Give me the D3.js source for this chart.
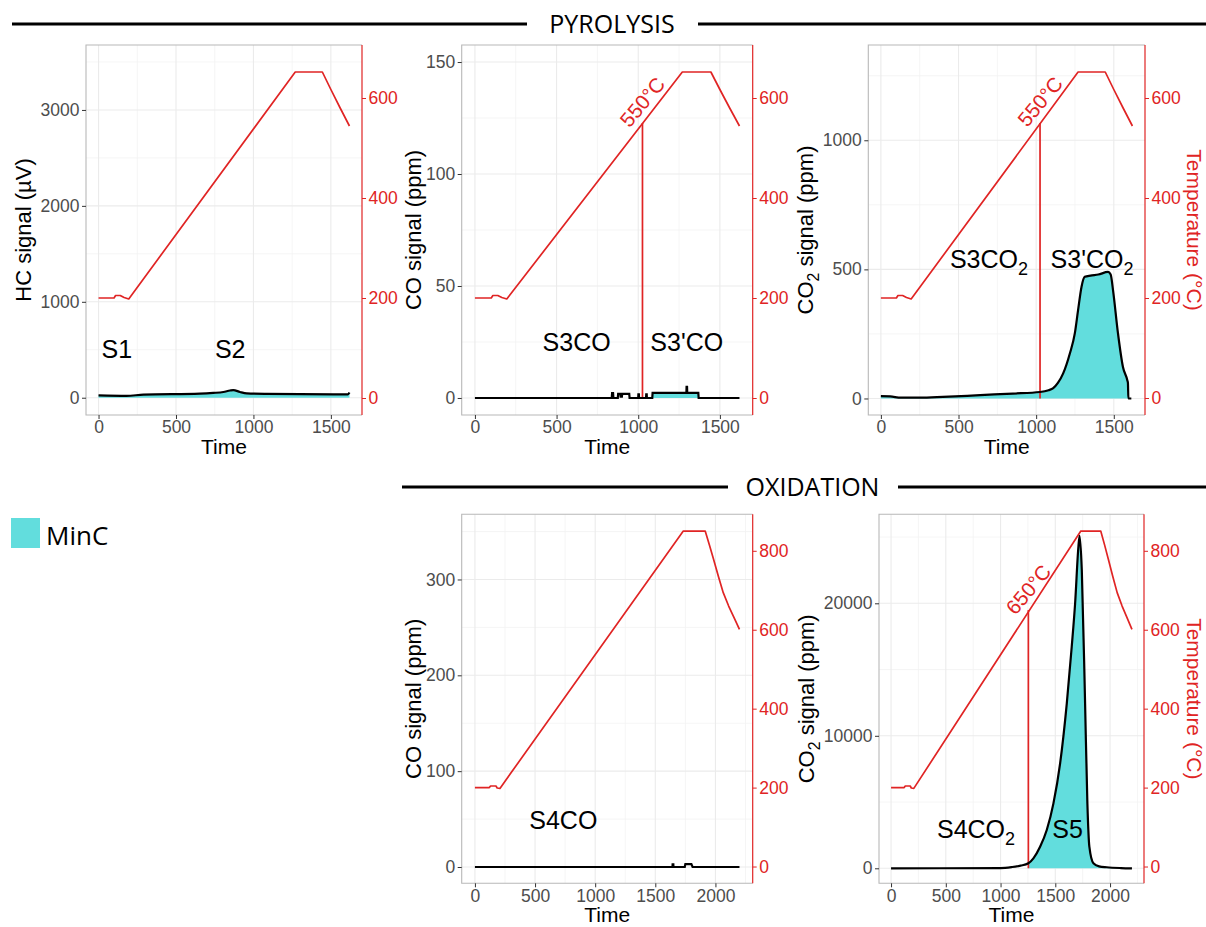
<!DOCTYPE html>
<html><head><meta charset="utf-8">
<script src="https://cdn.jsdelivr.net/npm/d3@7"></script>
<style>body{margin:0;background:#fff}</style></head>
<body>
<svg id="c" width="1206" height="927"></svg>
<script>
// ---------- DATA ----------
// temperature programmes
const pyroTempTime = [0, 100, 110, 140, 165, 195, 1270, 1445, 1500, 1560, 1620];
const pyroTempVal  = [200, 200, 205, 205, 201, 198, 652, 652, 617, 580, 544];
const oxiTempTime  = [0, 120, 130, 175, 185, 208, 1733, 1915, 1950, 1985, 2025, 2065, 2110, 2150, 2200];
const oxiTempVal   = [200, 200, 204, 204, 199, 198, 850, 850, 815, 778, 735, 694, 660, 634, 601];

// HC signal (pyrolysis)
const hcTime   = [0, 180, 290, 655, 741, 806, 849, 870, 913, 957, 1086, 1516, 1610, 1620];
const hcSignal = [25, 20, 32, 42, 50, 60, 75, 80, 60, 45, 40, 35, 35, 55];

// CO signal (pyrolysis)
const coPyroTime   = [0, 838, 840, 846, 848, 875, 877, 890, 892, 900, 902, 945, 947, 1000, 1001, 1004, 1005, 1048, 1049, 1052, 1053, 1086, 1088, 1295, 1296, 1299, 1300, 1368, 1370, 1620];
const coPyroSignal = [0, 0, 2.2, 2.2, 0, 0, 1.8, 1.8, 0.6, 0.6, 1.8, 1.8, 0, 0, 1.6, 1.6, 0, 0, 1.6, 1.6, 0, 0, 2.3, 2.3, 5, 5, 2.3, 2.3, 0, 0];

// CO2 signal (pyrolysis)
const co2PyroTime   = [0, 60, 130, 250, 400, 640, 850, 1025, 1080, 1110, 1140, 1174, 1217, 1249, 1270, 1292, 1313, 1350, 1400, 1463, 1480, 1495, 1527, 1559, 1587, 1591, 1594, 1613];
const co2PyroSignal = [9, 8, 3, 3, 6, 13, 19, 25, 32, 40, 60, 97, 174, 252, 342, 432, 471, 476, 480, 490, 480, 420, 252, 122, 71, 60, 0, 0];

// CO signal (oxidation)
const coOxiTime   = [0, 1643, 1644, 1650, 1651, 1745, 1750, 1800, 1810, 2200];
const coOxiSignal = [0, 0, 2.8, 2.8, 0, 0, 3, 3, 0, 0];

// CO2 signal (oxidation)
const co2OxiTime   = [0, 1000, 1100, 1183, 1254, 1300, 1361, 1422, 1483, 1544, 1605, 1650, 1681, 1711, 1722, 1742, 1772, 1793, 1811, 1848, 1900, 1970, 2100, 2200];
const co2OxiSignal = [0, 20, 90, 200, 380, 755, 1630, 2890, 4900, 7920, 12450, 16720, 20000, 24270, 25100, 22510, 12450, 4900, 1630, 380, 150, 80, 20, 0];

// tick labels
const pyroTimeTicks = [0, 500, 1000, 1500];
const oxiTimeTicks  = [0, 500, 1000, 1500, 2000];
const hcTicks       = [0, 1000, 2000, 3000];
const coPyroTicks   = [0, 50, 100, 150];
const co2PyroTicks  = [0, 500, 1000];
const coOxiTicks    = [0, 100, 200, 300];
const co2OxiTicks   = [0, 10000, 20000];
const pyroTempTicks = [0, 200, 400, 600];
const oxiTempTicks  = [0, 200, 400, 600, 800];

// ---------- STYLE ----------
const RED = "#e02424", CYAN = "#62dddd", GREY_TXT = "#4d4d4d";
const FONT = "'Liberation Sans', Arial, sans-serif";
const HFONT = "'Open Sans', 'Noto Sans', sans-serif";

const svg = d3.select("#c");

function zip(a, b) { return a.map((d, i) => [d, b[i]]); }

const panels = [
  { left: 86, right: 362, top: 45, bottom: 415, titleX: 23,
    tDomain: [-81, 1701], yDomain: [-180, 3677], tempDomain: [-34, 706],
    tTicks: pyroTimeTicks, yTicks: hcTicks, tempTicks: pyroTempTicks,
    temp: zip(pyroTempTime, pyroTempVal), sig: zip(hcTime, hcSignal), fillFrom: 0, curve: d3.curveMonotoneX,
    ytitle: [["HC signal (µV)"]], tempTitle: false,
    labels: [{t: 118, v: 410, parts: [["S1"]]}, {t: 850, v: 410, parts: [["S2"]]}] },
  { left: 461.7, right: 752.7, top: 45, bottom: 415, titleX: 413,
    tDomain: [-81, 1701], yDomain: [-7.6, 157.6], tempDomain: [-34, 706],
    tTicks: pyroTimeTicks, yTicks: coPyroTicks, tempTicks: pyroTempTicks,
    temp: zip(pyroTempTime, pyroTempVal), sig: zip(coPyroTime, coPyroSignal), fillFrom: 1026, curve: d3.curveLinear,
    vline: {t: 1026, temp: 550, label: "550°C", lt: 1026, ltemp: 592},
    ytitle: [["CO signal (ppm)"]], tempTitle: false,
    labels: [{t: 623, v: 20.8, parts: [["S3CO"]]}, {t: 1297, v: 20.8, parts: [["S3'CO"]]}] },
  { left: 868.3, right: 1145, top: 45, bottom: 415, titleX: 805,
    tDomain: [-81, 1701], yDomain: [-64, 1369], tempDomain: [-34, 706],
    tTicks: pyroTimeTicks, yTicks: co2PyroTicks, tempTicks: pyroTempTicks,
    temp: zip(pyroTempTime, pyroTempVal), sig: zip(co2PyroTime, co2PyroSignal), fillFrom: 0, curve: d3.curveMonotoneX,
    vline: {t: 1025, temp: 550, label: "550°C", lt: 1025, ltemp: 593},
    ytitle: [["CO"], ["2", "sub"], [" signal (ppm)"]], tempTitle: true,
    labels: [{t: 696, v: 504, parts: [["S3CO"], ["2", "sub"]]}, {t: 1360, v: 504, parts: [["S3'CO"], ["2", "sub"]]}] },
  { left: 461.7, right: 752.7, top: 514.3, bottom: 883.3, titleX: 413,
    tDomain: [-110, 2310], yDomain: [-17, 368], tempDomain: [-42.5, 892.5],
    tTicks: oxiTimeTicks, yTicks: coOxiTicks, tempTicks: oxiTempTicks,
    temp: zip(oxiTempTime, oxiTempVal), sig: zip(coOxiTime, coOxiSignal), fillFrom: 99999, curve: d3.curveLinear,
    ytitle: [["CO signal (ppm)"]], tempTitle: false,
    labels: [{t: 735, v: 40, parts: [["S4CO"]]}] },
  { left: 879, right: 1144, top: 514.3, bottom: 883.3, titleX: 806,
    tDomain: [-110, 2310], yDomain: [-1132, 26717], tempDomain: [-42.5, 892.5],
    tTicks: oxiTimeTicks, yTicks: co2OxiTicks, tempTicks: oxiTempTicks,
    temp: zip(oxiTempTime, oxiTempVal), sig: zip(co2OxiTime, co2OxiSignal), fillFrom: 1254, curve: d3.curveMonotoneX,
    vline: {t: 1254, temp: 650, label: "650°C", lt: 1254, ltemp: 702},
    ytitle: [["CO"], ["2", "sub"], [" signal (ppm)"]], tempTitle: true,
    labels: [{t: 776, v: 2264, parts: [["S4CO"], ["2", "sub"]]}, {t: 1612, v: 2264, parts: [["S5"]]}] }
];

function minorTicks(ticks, dom) {
  const step = ticks[1] - ticks[0];
  const out = [];
  for (let v = ticks[0] - step / 2; v <= dom[1]; v += step) if (v >= dom[0]) out.push(v);
  return out;
}

function richText(sel, parts, size) {
  parts.forEach(p => {
    const ts = sel.append("tspan").text(p[0]);
    if (p[1] === "sub") ts.attr("font-size", size * 0.72).attr("dy", size * 0.28);
    else if (sel.selectAll("tspan").size() > 1) ts.attr("dy", -size * 0.28);
  });
}

panels.forEach((p, i) => {
  const g = svg.append("g");
  const x = d3.scaleLinear().domain(p.tDomain).range([p.left, p.right]);
  const y = d3.scaleLinear().domain(p.yDomain).range([p.bottom, p.top]);
  const yT = d3.scaleLinear().domain(p.tempDomain).range([p.bottom, p.top]);

  // grid
  const grid = g.append("g");
  minorTicks(p.tTicks, p.tDomain).forEach(v => grid.append("line")
    .attr("x1", x(v)).attr("x2", x(v)).attr("y1", p.top).attr("y2", p.bottom)
    .attr("stroke", "#f3f3f3").attr("stroke-width", 0.8));
  minorTicks(p.yTicks, p.yDomain).forEach(v => grid.append("line")
    .attr("y1", y(v)).attr("y2", y(v)).attr("x1", p.left).attr("x2", p.right)
    .attr("stroke", "#f3f3f3").attr("stroke-width", 0.8));
  p.tTicks.forEach(v => grid.append("line")
    .attr("x1", x(v)).attr("x2", x(v)).attr("y1", p.top).attr("y2", p.bottom)
    .attr("stroke", "#ebebeb").attr("stroke-width", 1.1));
  p.yTicks.forEach(v => grid.append("line")
    .attr("y1", y(v)).attr("y2", y(v)).attr("x1", p.left).attr("x2", p.right)
    .attr("stroke", "#ebebeb").attr("stroke-width", 1.1));

  // fill area (MinC)
  const fillData = p.sig.filter(d => d[0] >= p.fillFrom);
  if (fillData.length > 1) {
    if (fillData[0][0] > p.fillFrom) {
      const k = p.sig.findIndex(d => d[0] >= p.fillFrom);
      const a = p.sig[k - 1], b = p.sig[k];
      const v = a[1] + (b[1] - a[1]) * (p.fillFrom - a[0]) / (b[0] - a[0]);
      fillData.unshift([p.fillFrom, v]);
    }
    g.append("path").datum(fillData)
      .attr("d", d3.area().x(d => x(d[0])).y0(y(0)).y1(d => y(d[1])).curve(p.curve))
      .attr("fill", CYAN);
  }

  // temperature
  g.append("path").datum(p.temp)
    .attr("d", d3.line().x(d => x(d[0])).y(d => yT(d[1])))
    .attr("fill", "none").attr("stroke", RED).attr("stroke-width", 1.7).attr("stroke-linejoin", "round");

  // vertical threshold line
  if (p.vline) {
    g.append("line").attr("x1", x(p.vline.t)).attr("x2", x(p.vline.t))
      .attr("y1", y(0)).attr("y2", yT(p.vline.temp))
      .attr("stroke", RED).attr("stroke-width", 1.7);
    g.append("text").attr("transform", `translate(${x(p.vline.lt)},${yT(p.vline.ltemp)}) rotate(-50)`)
      .attr("text-anchor", "middle").attr("dy", "0.35em")
      .attr("font-family", FONT).attr("font-size", 20.5).attr("fill", RED).text(p.vline.label);
  }

  // signal line
  g.append("path").datum(p.sig)
    .attr("d", d3.line().x(d => x(d[0])).y(d => y(d[1])).curve(p.curve))
    .attr("fill", "none").attr("stroke", "#000").attr("stroke-width", 2.2);

  // labels
  p.labels.forEach(l => {
    const t = g.append("text").attr("x", x(l.t)).attr("y", y(l.v))
      .attr("text-anchor", "middle").attr("font-family", FONT).attr("font-size", 25).attr("fill", "#000");
    richText(t, l.parts, 25);
  });

  // border
  g.append("path").attr("d", `M${p.right},${p.top}H${p.left}V${p.bottom}H${p.right}`)
    .attr("fill", "none").attr("stroke", "#b8b8b8").attr("stroke-width", 1.1);
  g.append("line").attr("x1", p.right).attr("x2", p.right).attr("y1", p.top).attr("y2", p.bottom)
    .attr("stroke", RED).attr("stroke-width", 1.2);

  // axes
  const fmt = d3.format("d");
  const ax = g.append("g").attr("transform", `translate(0,${p.bottom})`)
    .call(d3.axisBottom(x).tickValues(p.tTicks).tickFormat(fmt).tickSize(4).tickPadding(2));
  const ay = g.append("g").attr("transform", `translate(${p.left},0)`)
    .call(d3.axisLeft(y).tickValues(p.yTicks).tickFormat(fmt).tickSize(4).tickPadding(2.5));
  const ar = g.append("g").attr("transform", `translate(${p.right},0)`)
    .call(d3.axisRight(yT).tickValues(p.tempTicks).tickFormat(fmt).tickSize(4).tickPadding(2.5));
  [ax, ay, ar].forEach(a => { a.select(".domain").remove(); a.selectAll("text").attr("font-family", FONT).attr("font-size", 17.5); });
  ax.selectAll("line").attr("stroke", "#333");
  ax.selectAll("text").attr("fill", GREY_TXT);
  ay.selectAll("line").attr("stroke", "#333");
  ay.selectAll("text").attr("fill", GREY_TXT);
  ar.selectAll("line").attr("stroke", RED);
  ar.selectAll("text").attr("fill", RED);

  // axis titles
  g.append("text").attr("x", (p.left + p.right) / 2).attr("y", p.bottom + 39)
    .attr("text-anchor", "middle").attr("font-family", FONT).attr("font-size", 21).attr("fill", "#000").text("Time");
  const yt = g.append("text")
    .attr("transform", `translate(${p.titleX},${(p.top + p.bottom) / 2}) rotate(-90)`)
    .attr("text-anchor", "middle").attr("dy", "0.35em")
    .attr("font-family", FONT).attr("font-size", 22).attr("fill", "#000");
  richText(yt, p.ytitle, 22);
  if (p.tempTitle) {
    g.append("text").attr("transform", `translate(1194,${(p.top + p.bottom) / 2}) rotate(90)`)
      .attr("text-anchor", "middle").attr("dy", "0.35em")
      .attr("font-family", FONT).attr("font-size", 21).attr("fill", RED).text("Temperature (°C)");
  }
});

// section headers
function header(txt, cx, cy, x0, x1, gapL, gapR) {
  svg.append("line").attr("x1", x0).attr("x2", gapL).attr("y1", cy).attr("y2", cy).attr("stroke", "#000").attr("stroke-width", 3);
  svg.append("line").attr("x1", gapR).attr("x2", x1).attr("y1", cy).attr("y2", cy).attr("stroke", "#000").attr("stroke-width", 3);
  svg.append("text").attr("x", cx).attr("y", cy + 9).attr("text-anchor", "middle")
    .attr("font-family", HFONT).attr("font-size", 25).attr("fill", "#000").text(txt);
}
header("PYROLYSIS", 612, 24, 12, 1206, 527, 698);
header("OXIDATION", 812.5, 487, 402, 1206, 728, 898);

// legend
svg.append("rect").attr("x", 11).attr("y", 518).attr("width", 29).attr("height", 30).attr("fill", CYAN);
svg.append("text").attr("x", 46).attr("y", 545).attr("font-family", HFONT).attr("font-size", 26).attr("fill", "#000").text("MinC");
</script>
</body></html>
